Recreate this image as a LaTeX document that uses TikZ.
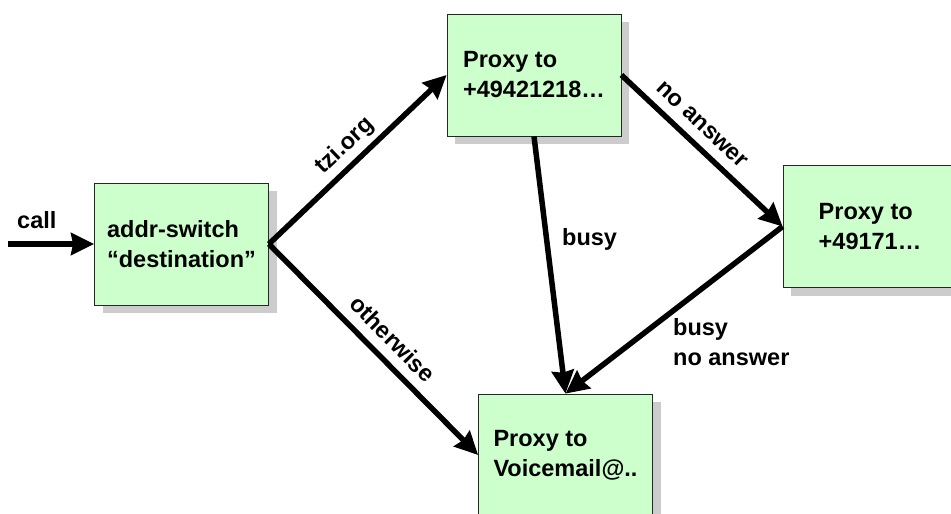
\documentclass[tikz,border=0pt]{standalone}
\usepackage{fontspec}
\setmainfont{Liberation Sans}
\usetikzlibrary{arrows.meta,shadows}
\begin{document}
\begin{tikzpicture}[x=1pt,y=-1pt,
  every node/.style={font=\bfseries\fontsize{23.5}{30}\selectfont},
  box/.style={draw=black!85, line width=0.8pt, fill={rgb,255:red,204;green,255;blue,204},
    minimum width=174pt, minimum height=122pt, align=left, inner sep=0pt,
    drop shadow={shadow xshift=8pt, shadow yshift=-8pt, fill=black!20, opacity=1}},
  conn/.style={line width=5.5pt, -{Stealth[length=23pt,width=22pt,inset=2pt]}},
  lbl/.style={sloped, inner sep=0pt, text depth=0pt, above=10pt},
  plain/.style={anchor=base west, inner sep=0pt, align=left}
]
\useasboundingbox (0,0) rectangle (951,514);
\node[box] (b1) at (181.5,244) {addr-switch\\“destination”};
\node[box] (b2) at (534,75) {Proxy to\\+49421218…};
\node[box] (b3) at (870,226.5) {Proxy to\\+49171…};
\node[box] (b4) at (565.5,455) {Proxy to\\Voicemail@..};
\coordinate (cs) at (8,244);
\draw[conn] (cs) -- (b1.west);
\draw[conn] (b1.east) -- node[lbl, pos=0.5] (ltzi) {tzi.org} (b2.west);
\draw[conn] (b1.east) -- node[lbl, pos=0.52] (loth) {otherwise} (b4.west);
\draw[conn] (b2.east) -- node[lbl, pos=0.42] (lna) {no answer} (b3.west);
\draw[conn] (b2.south) -- (b4.north);
\draw[conn] (b3.west) -- (b4.north);
\node[plain] (lcall) at (17,228) {call};
\node[plain] (lbusy) at (562,245) {busy};
\node[plain] (lbna) at (673,365) {busy\\no answer};
\end{tikzpicture}
\end{document}
